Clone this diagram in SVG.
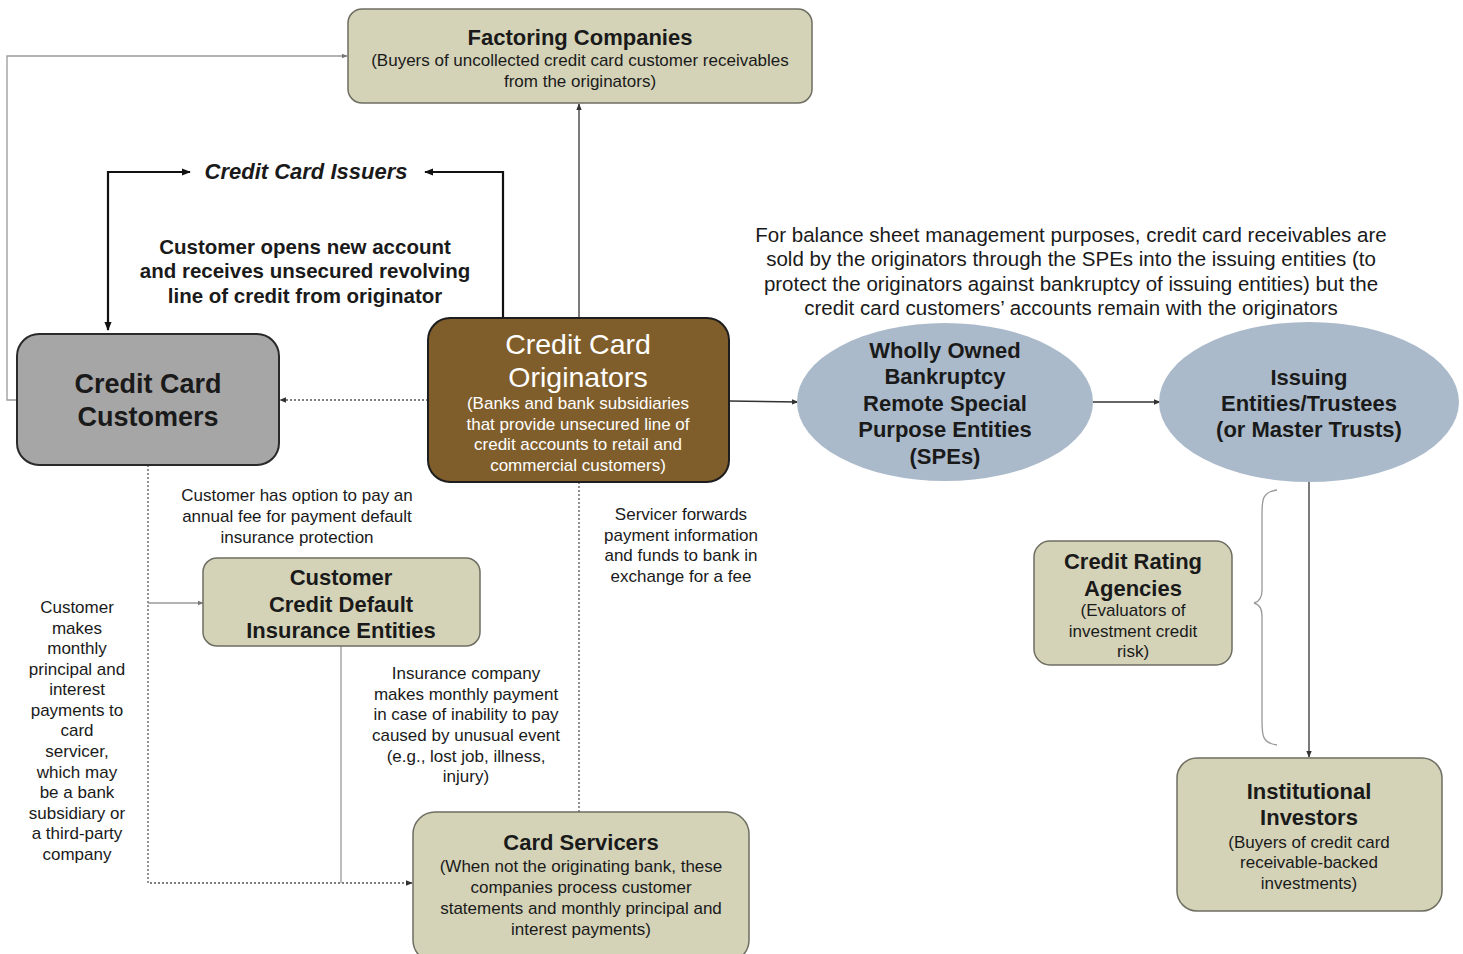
<svg xmlns="http://www.w3.org/2000/svg" width="1463" height="954" viewBox="0 0 1463 954">
<defs>
<style>
text{font-family:"Liberation Sans",Arial,sans-serif;fill:#1a1a1a;text-anchor:middle;dominant-baseline:central}
.t{font-weight:bold;font-size:22px}
.s{font-size:17px}
.k{fill:#d4d3b8;stroke:#6e6e62;stroke-width:1.5}
.w{fill:#ffffff}
.sol{fill:none;stroke:#333;stroke-width:1.3}
.blk{fill:none;stroke:#111;stroke-width:2.2}
.gry{fill:none;stroke:#999;stroke-width:1.3}
.dot{fill:none;stroke:#555;stroke-width:1.3;stroke-dasharray:2 2}
.ell{fill:#abbaca}
</style>
<marker id="a" viewBox="0 0 10 10" refX="9" refY="5" markerWidth="7" markerHeight="7" orient="auto-start-reverse" markerUnits="userSpaceOnUse"><path d="M0,1 L10,5 L0,9 z" fill="#333"/></marker>
<marker id="ab" viewBox="0 0 10 10" refX="9" refY="5" markerWidth="9" markerHeight="9" orient="auto-start-reverse" markerUnits="userSpaceOnUse"><path d="M0,1 L10,5 L0,9 z" fill="#111"/></marker>
<marker id="ag" viewBox="0 0 10 10" refX="9" refY="5" markerWidth="6" markerHeight="6" orient="auto-start-reverse" markerUnits="userSpaceOnUse"><path d="M0,1 L10,5 L0,9 z" fill="#777"/></marker>
</defs>

<g id="connectors">
<path class="gry" d="M17,400 H7 V56 H347" marker-end="url(#ag)"/>
<path class="blk" d="M108,330 V172 H190" marker-start="url(#ab)" marker-end="url(#ab)"/>
<path class="blk" d="M503,318 V172 H425" marker-end="url(#ab)"/>
<path class="sol" d="M579,318 V104" marker-end="url(#a)"/>
<path class="dot" d="M428,400 H280" marker-end="url(#a)"/>
<path class="sol" d="M729,401 L798,402" marker-end="url(#a)"/>
<path class="sol" d="M1093,402 H1160" marker-end="url(#a)"/>
<path class="sol" d="M1309,482 V757" marker-end="url(#a)"/>
<path class="dot" d="M148,465 V883 H412" marker-end="url(#a)"/>
<path class="gry" d="M148,603 H203" marker-end="url(#ag)"/>
<path class="gry" d="M341,646 V883"/>
<path class="dot" d="M579,482 V812"/>
<path class="gry" d="M1277,490 C1262,492 1262,500 1262,515 V590 C1262,598 1258,602 1254,603 C1258,604 1262,608 1262,616 V720 C1262,735 1262,743 1277,745"/>
</g>

<g id="factoring">
<rect class="k" x="348" y="9" width="464" height="94" rx="14"/>
<text class="t" x="580" y="37">Factoring Companies</text>
<text class="s" x="580" y="60">(Buyers of uncollected credit card customer receivables</text>
<text class="s" x="580" y="81">from the originators)</text>
</g>

<g id="issuers-label">
<text x="306" y="171" style="font-weight:bold;font-style:italic;font-size:22px">Credit Card Issuers</text>
<text x="305" y="246" style="font-weight:bold;font-size:20.5px">Customer opens new account</text>
<text x="305" y="270" style="font-weight:bold;font-size:20.5px">and receives unsecured revolving</text>
<text x="305" y="295" style="font-weight:bold;font-size:20.5px">line of credit from originator</text>
</g>

<g id="customers">
<rect x="17" y="334" width="262" height="131" rx="22" fill="#a6a6a6" stroke="#2a2a2a" stroke-width="2"/>
<text x="148" y="384" style="font-weight:bold;font-size:27px">Credit Card</text>
<text x="148" y="417" style="font-weight:bold;font-size:27px">Customers</text>
</g>

<g id="originators">
<rect x="428" y="318" width="301" height="164" rx="22" fill="#7f5e2c" stroke="#1e1e1e" stroke-width="2"/>
<text class="w" x="578" y="344" style="font-size:28.5px">Credit Card</text>
<text class="w" x="578" y="377" style="font-size:28.5px">Originators</text>
<text class="w s" x="578" y="403">(Banks and bank subsidiaries</text>
<text class="w s" x="578" y="424">that provide unsecured line of</text>
<text class="w s" x="578" y="444">credit accounts to retail and</text>
<text class="w s" x="578" y="465">commercial customers)</text>
</g>

<g id="note-balance">
<text x="1071" y="234" style="font-size:20.5px">For balance sheet management purposes, credit card receivables are</text>
<text x="1071" y="258" style="font-size:20.5px">sold by the originators through the SPEs into the issuing entities (to</text>
<text x="1071" y="283" style="font-size:20.5px">protect the originators against bankruptcy of issuing entities) but the</text>
<text x="1071" y="307" style="font-size:20.5px">credit card customers’ accounts remain with the originators</text>
</g>

<g id="spe">
<ellipse class="ell" cx="945" cy="402" rx="148" ry="79"/>
<text class="t" x="945" y="350">Wholly Owned</text>
<text class="t" x="945" y="376">Bankruptcy</text>
<text class="t" x="945" y="403">Remote Special</text>
<text class="t" x="945" y="429">Purpose Entities</text>
<text class="t" x="945" y="456">(SPEs)</text>
</g>

<g id="issuing">
<ellipse class="ell" cx="1309" cy="402" rx="150" ry="80"/>
<text class="t" x="1309" y="377">Issuing</text>
<text class="t" x="1309" y="403">Entities/Trustees</text>
<text class="t" x="1309" y="429">(or Master Trusts)</text>
</g>

<g id="rating">
<rect class="k" x="1034" y="541" width="198" height="124" rx="16"/>
<text class="t" x="1133" y="561">Credit Rating</text>
<text class="t" x="1133" y="588">Agencies</text>
<text class="s" x="1133" y="610">(Evaluators of</text>
<text class="s" x="1133" y="631">investment credit</text>
<text class="s" x="1133" y="651">risk)</text>
</g>

<g id="investors">
<rect class="k" x="1177" y="758" width="265" height="153" rx="20"/>
<text class="t" x="1309" y="791">Institutional</text>
<text class="t" x="1309" y="817">Investors</text>
<text class="s" x="1309" y="842">(Buyers of credit card</text>
<text class="s" x="1309" y="862">receivable-backed</text>
<text class="s" x="1309" y="883">investments)</text>
</g>

<g id="insurance">
<rect class="k" x="203" y="558" width="277" height="88" rx="14"/>
<text class="t" x="341" y="577">Customer</text>
<text class="t" x="341" y="604">Credit Default</text>
<text class="t" x="341" y="630">Insurance Entities</text>
</g>

<g id="servicers">
<rect class="k" x="413" y="812" width="336" height="150" rx="22"/>
<text class="t" x="581" y="842">Card Servicers</text>
<text class="s" x="581" y="866">(When not the originating bank, these</text>
<text class="s" x="581" y="887">companies process customer</text>
<text class="s" x="581" y="908">statements and monthly principal and</text>
<text class="s" x="581" y="929">interest payments)</text>
</g>

<g id="labels">
<text class="s" x="297" y="495">Customer has option to pay an</text>
<text class="s" x="297" y="516">annual fee for payment default</text>
<text class="s" x="297" y="537">insurance protection</text>
<text class="s" x="681" y="514">Servicer forwards</text>
<text class="s" x="681" y="535">payment information</text>
<text class="s" x="681" y="555">and funds to bank in</text>
<text class="s" x="681" y="576">exchange for a fee</text>
<text class="s" x="466" y="673">Insurance company</text>
<text class="s" x="466" y="694">makes monthly payment</text>
<text class="s" x="466" y="714">in case of inability to pay</text>
<text class="s" x="466" y="735">caused by unusual event</text>
<text class="s" x="466" y="756">(e.g., lost job, illness,</text>
<text class="s" x="466" y="776">injury)</text>
<text class="s" x="77" y="607">Customer</text>
<text class="s" x="77" y="628">makes</text>
<text class="s" x="77" y="648">monthly</text>
<text class="s" x="77" y="669">principal and</text>
<text class="s" x="77" y="689">interest</text>
<text class="s" x="77" y="710">payments to</text>
<text class="s" x="77" y="730">card</text>
<text class="s" x="77" y="751">servicer,</text>
<text class="s" x="77" y="772">which may</text>
<text class="s" x="77" y="792">be a bank</text>
<text class="s" x="77" y="813">subsidiary or</text>
<text class="s" x="77" y="833">a third-party</text>
<text class="s" x="77" y="854">company</text>
</g>
</svg>
